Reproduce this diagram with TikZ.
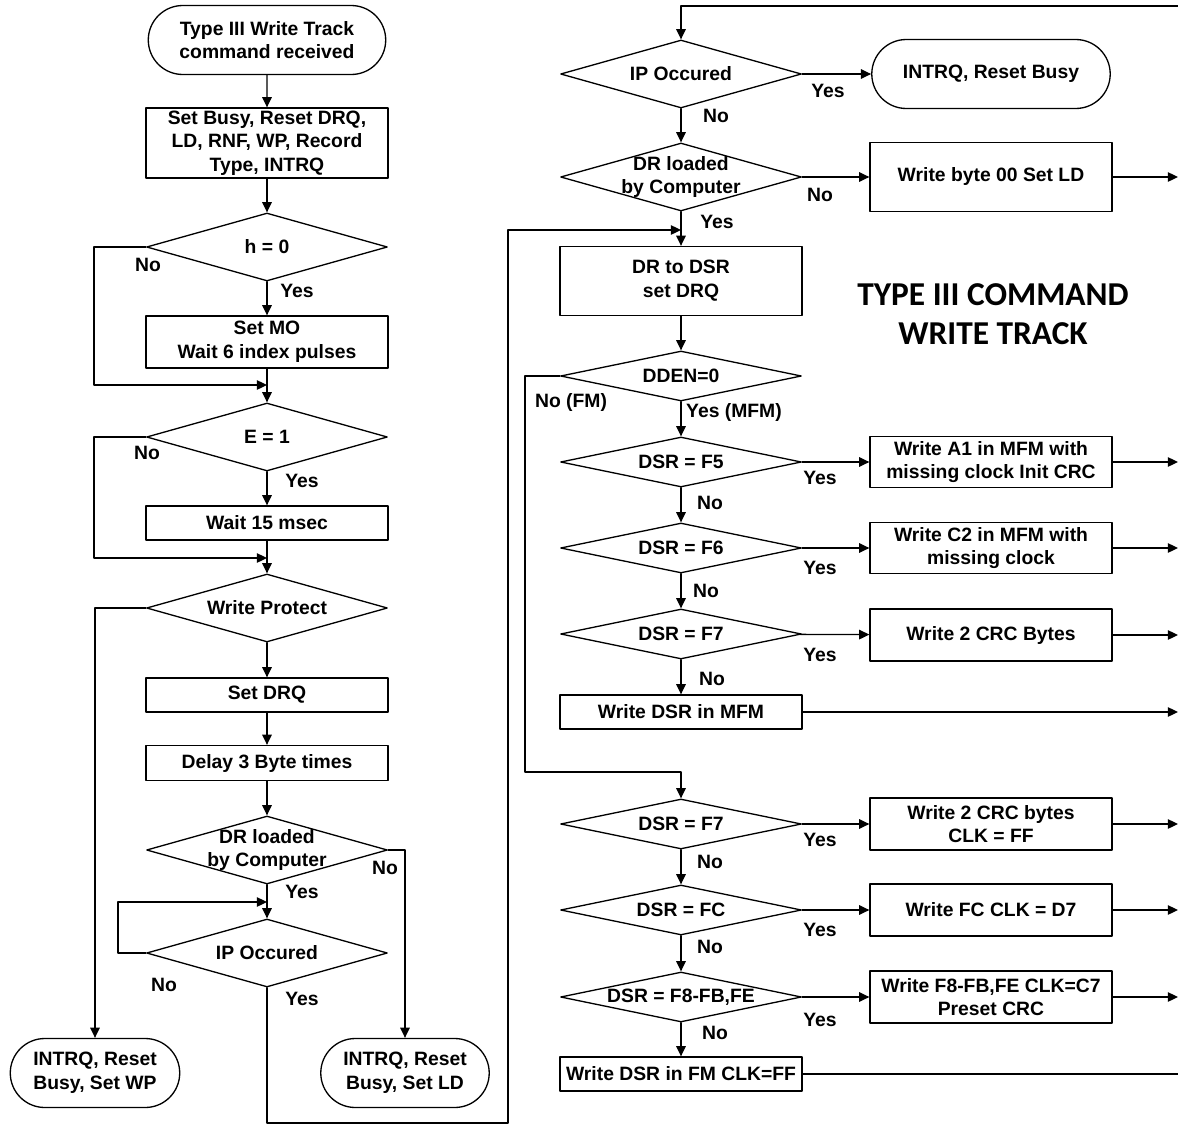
\documentclass[tikz,border=0pt]{standalone}
\usepackage{fontspec}
\setmainfont{Liberation Sans}
\newfontfamily\titlefont{Carlito}
\usepackage{tikz}
\usetikzlibrary{arrows,arrows.meta,shapes.geometric,shapes.misc}

\tikzset{
  box/.style={draw, rectangle, minimum width=4.84cm, align=center, inner sep=1pt},
  term/.style={draw, rounded rectangle, minimum height=1.38cm, align=center, inner sep=1pt},
  dec/.style={draw, diamond, minimum width=4.82cm, minimum height=1.36cm, inner sep=0pt},
  yn/.style={inner sep=0pt}
}

\begin{document}
\begin{tikzpicture}[line cap=round,line join=round,>={Triangle[length=5.8pt,width=5.4pt]},x=0.02cm,y=-0.02cm,line width=0.75pt,
  font=\fontsize{11}{13.5}\selectfont\bfseries, every label/.style={align=center,inner sep=0pt}]
\useasboundingbox (0,0) rectangle (1178,1126);

% left column
\node[term, minimum width=4.82cm] (start) at (267,40) {Type III Write Track\\command received};
\node[box, minimum height=1.4cm] (setbusy) at (267,143) {Set Busy, Reset DRQ,\\LD, RNF, WP, Record\\Type, INTRQ};
\node[dec, label=center:{h = 0}] (hzero) at (267,247) {};
\node[box, minimum height=1.04cm] (setmo) at (267,342) {Set MO\\Wait 6 index pulses};
\node[dec, label=center:{E = 1}] (eone) at (267,437) {};
\node[box, minimum height=0.68cm] (wait) at (267,523) {Wait 15 msec};
\node[dec, label=center:{Write Protect}] (wprot) at (267,608) {};
\node[box, minimum height=0.68cm] (setdrq) at (267,695) {Set DRQ};
\node[box, minimum height=0.7cm] (delay) at (267,763) {Delay 3 Byte times};
\node[dec, label=center:{DR loaded\\by Computer}] (drleft) at (267,850) {};
\node[dec, label=center:{IP Occured}] (ipleft) at (267,953) {};
\node[term, minimum width=3.46cm] (endwp) at (95,1073) {INTRQ, Reset\\Busy, Set WP};
\node[term, minimum width=3.44cm] (endld) at (405,1073) {INTRQ, Reset\\Busy, Set LD};

\coordinate (jmo) at (267,385);
\coordinate (jwait) at (267,558);
\coordinate (jip) at (267,902);
\coordinate (bot) at (508,1123);

\node[yn] (hno) at (148,265) {No};
\node[yn] (hyes) at (297,291) {Yes};
\node[yn] (eno) at (147,453) {No};
\node[yn] (eyes) at (302,481) {Yes};
\node[yn] (drlno) at (385,868) {No};
\node[yn] (drlyes) at (302,892) {Yes};
\node[yn] (iplno) at (164,985) {No};
\node[yn] (iplyes) at (302,999) {Yes};

\draw[->] (start) -- (setbusy);
\draw[->] (setbusy) -- (hzero);
\draw[->] (hzero) -- (setmo);
\draw[->] (hzero.west) -- ++(-52,0) |- (jmo);
\draw[->] (setmo) -- (eone);
\draw[->] (eone) -- (wait);
\draw[->] (eone.west) -- ++(-52,0) |- (jwait);
\draw[->] (wait) -- (wprot);
\draw[->] (wprot.west) -| (endwp.north);
\draw[->] (wprot) -- (setdrq);
\draw[->] (setdrq) -- (delay);
\draw[->] (delay) -- (drleft);
\draw[->] (drleft.east) -| (endld.north);
\draw[->] (drleft) -- (ipleft);
\draw[->] (ipleft.west) -- ++(-28,0) |- (jip);

% right column
\node[dec, label=center:{IP Occured}] (ipright) at (681,74) {};
\node[term, minimum width=4.84cm] (endbusy) at (991,74) {INTRQ, Reset Busy};
\node[dec, label=center:{DR loaded\\by Computer}] (drright) at (681,177) {};
\node[box, minimum height=1.38cm] (byte00) at (991,177) {Write byte 00 Set LD};
\node[box, minimum height=1.38cm] (drdsr) at (681,281) {DR to DSR\\set DRQ};
\node[dec, minimum height=1cm, label=center:{DDEN=0}] (dden) at (681,376) {};
\node[dec, minimum height=1cm, label=center:{DSR = F5}] (dsrfv) at (681,462) {};
\node[box, minimum height=1.02cm] (wra1) at (991,462) {Write A1 in MFM with\\missing clock Init CRC};
\node[dec, minimum height=1cm, label=center:{DSR = F6}] (dsrfs) at (681,548) {};
\node[box, minimum height=1.02cm] (wrc2) at (991,548) {Write C2 in MFM with\\missing clock};
\node[dec, minimum height=1cm, label=center:{DSR = F7}] (dsrmf) at (681,634) {};
\node[box, minimum height=1.04cm] (crcmf) at (991,635) {Write 2 CRC Bytes};
\node[box, minimum height=0.68cm] (wrmfm) at (681,712) {Write DSR in MFM};
\node[dec, minimum height=1cm, label=center:{DSR = F7}] (dsrfm) at (681,824) {};
\node[box, minimum height=1.04cm] (crcfm) at (991,824) {Write 2 CRC bytes\\CLK = FF};
\node[dec, minimum height=1cm, label=center:{DSR = FC}] (dsrfc) at (681,910) {};
\node[box, minimum height=1.04cm] (wrfc) at (991,910) {Write FC CLK = D7};
\node[dec, minimum height=1cm, label=center:{DSR = F8-FB,FE}] (dsrfe) at (681,997) {};
\node[box, minimum height=1.04cm] (wrfe) at (991,997) {Write F8-FB,FE CLK=C7\\Preset CRC};
\node[box, minimum height=0.68cm] (wrfm) at (681,1074) {Write DSR in FM CLK=FF};

\node[font=\titlefont\fontsize{19}{22}\selectfont\bfseries, align=center] (title) at (993,314) {TYPE III COMMAND\\WRITE TRACK};

\coordinate (rbus) at (1178,6);
\coordinate (jdsr) at (681,230);
\coordinate (jfm) at (681,772);

\node[yn] (iprno) at (716,116) {No};
\node[yn] (ipryes) at (828,91) {Yes};
\node[yn] (drrno) at (820,195) {No};
\node[yn] (drryes) at (717,222) {Yes};
\node[yn] (ddenno) at (571,402) {No (FM)};
\node[yn] (ddenyes) at (734,412) {Yes (MFM)};
\node[yn] (fvyes) at (820,478) {Yes};
\node[yn] (fvno) at (710,503) {No};
\node[yn] (fsyes) at (820,568) {Yes};
\node[yn] (fsno) at (706,591) {No};
\node[yn] (mfyes) at (820,655) {Yes};
\node[yn] (mfno) at (712,679) {No};
\node[yn] (fmyes) at (820,840) {Yes};
\node[yn] (fmno) at (710,862) {No};
\node[yn] (fcyes) at (820,930) {Yes};
\node[yn] (fcno) at (710,947) {No};
\node[yn] (feyes) at (820,1020) {Yes};
\node[yn] (feno) at (715,1033) {No};

\draw[->] (ipleft.south) |- (bot) |- (jdsr);
\draw[->] (rbus) -| (ipright.north);
\draw[->] (ipright) -- (endbusy);
\draw[->] (ipright) -- (drright);
\draw[->] (drright) -- (byte00);
\draw[->] (byte00.east) -- (byte00.east -| rbus);
\draw[->] (drright) -- (drdsr);
\draw[->] (drdsr) -- (dden);
\draw[->] (dden) -- (dsrfv);
\draw[->] (dden.west) -- ++(-35,0) |- (jfm) -- (dsrfm.north);
\draw[->] (dsrfv) -- (wra1);
\draw[->] (wra1.east) -- (wra1.east -| rbus);
\draw[->] (dsrfv) -- (dsrfs);
\draw[->] (dsrfs) -- (wrc2);
\draw[->] (wrc2.east) -- (wrc2.east -| rbus);
\draw[->] (dsrfs) -- (dsrmf);
\draw[->] (dsrmf) -- (crcmf);
\draw[->] (crcmf.east) -- (crcmf.east -| rbus);
\draw[->] (dsrmf) -- (wrmfm);
\draw[->] (wrmfm.east) -- (wrmfm.east -| rbus);
\draw[->] (dsrfm) -- (crcfm);
\draw[->] (crcfm.east) -- (crcfm.east -| rbus);
\draw[->] (dsrfm) -- (dsrfc);
\draw[->] (dsrfc) -- (wrfc);
\draw[->] (wrfc.east) -- (wrfc.east -| rbus);
\draw[->] (dsrfc) -- (dsrfe);
\draw[->] (dsrfe) -- (wrfe);
\draw[->] (wrfe.east) -- (wrfe.east -| rbus);
\draw[->] (dsrfe) -- (wrfm);
\draw (wrfm.east) -- (wrfm.east -| rbus);
\end{tikzpicture}
\end{document}
